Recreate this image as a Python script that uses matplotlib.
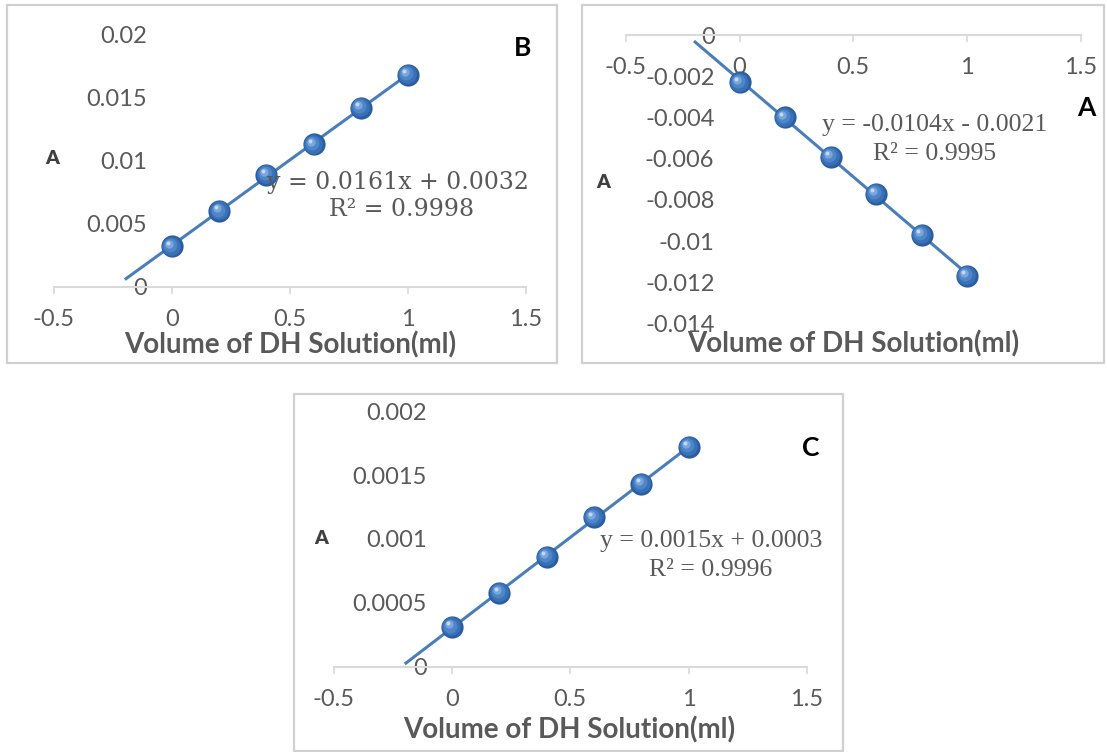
import numpy as np
import matplotlib.pyplot as plt
from matplotlib.patches import Rectangle
from matplotlib.transforms import offset_copy

plt.rcParams['font.family'] = ['Lato', 'DejaVu Sans']

W, H = 1107, 752

# volume of DH solution (ml)
volume = [0, 0.2, 0.4, 0.6, 0.8, 1.0]

# absorbance readings for each series
abs_b = [0.0032, 0.0060, 0.0089, 0.0113, 0.0142, 0.0168]
abs_a = [-0.0023, -0.0040, -0.0059, -0.0077, -0.0097, -0.0117]
abs_c = [0.00031, 0.00058, 0.00086, 0.00117, 0.00143, 0.00172]

x_ticks = [-0.5, 0, 0.5, 1, 1.5]
x_ticklabels = ['-0.5', '0', '0.5', '1', '1.5']

yticks_b = [0, 0.005, 0.01, 0.015, 0.02]
ylabels_b = ['0', '0.005', '0.01', '0.015', '0.02']
yticks_a = [0, -0.002, -0.004, -0.006, -0.008, -0.01, -0.012, -0.014]
ylabels_a = ['0', '-0.002', '-0.004', '-0.006', '-0.008', '-0.01', '-0.012', '-0.014']
yticks_c = [0, 0.0005, 0.001, 0.0015, 0.002]
ylabels_c = ['0', '0.0005', '0.001', '0.0015', '0.002']

eq_b = ['y = 0.0161x + 0.0032', 'R² = 0.9998']
eq_a = ['y = -0.0104x - 0.0021', 'R² = 0.9995']
eq_c = ['y = 0.0015x + 0.0003', 'R² = 0.9996']

GREY = '#595959'
LINE = '#4a7ebb'


def fx(x):
    return x / W


def fy(y):
    return 1 - y / H


def add_axes(fig, x0, x1, ytop, ybot):
    return fig.add_axes([fx(x0), fy(ybot), (x1 - x0) / W, (ybot - ytop) / H])


def draw_panel(ax, y, yticks, ylabels):
    ax.set_xlim(-0.5, 1.5)
    ax.set_ylim(min(yticks), max(yticks))
    ax.patch.set_alpha(0)
    for s in ['top', 'right']:
        ax.spines[s].set_visible(False)
    ax.spines['bottom'].set_position(('data', 0))
    ax.spines['bottom'].set_color('#d9d9d9')
    ax.spines['bottom'].set_linewidth(1.5)
    ax.spines['left'].set_position(('data', 0))
    ax.spines['left'].set_color('none')

    ax.set_xticks(x_ticks, x_ticklabels)
    ax.set_yticks(yticks, ylabels)
    ax.tick_params(axis='x', direction='out', length=5, width=1.2, color='#d9d9d9',
                   labelsize=17, labelcolor=GREY, pad=11)
    ax.tick_params(axis='y', length=0, labelsize=17, labelcolor=GREY, pad=18)

    # linear trendline, extended 0.2 ml backwards
    k, b = np.polyfit(volume, y, 1)
    xs = np.array([-0.2, 1.0])
    ax.plot(xs, k * xs + b, color=LINE, lw=2.2, solid_capstyle='butt', zorder=2)

    # shaded sphere markers
    fig = ax.figure
    layers = [(16, '#2b5e9f', 0), (13.5, '#3a70b6', 0.5), (10, '#4f86c9', 1.1),
              (6, '#7aa6dc', 1.9), (2.8, '#c4d9f2', 2.6)]
    for size, col, off in layers:
        tr = offset_copy(ax.transData, fig=fig, x=-off, y=off, units='points')
        ax.plot(volume, y, 'o', ms=size, color=col, mec='none', transform=tr, zorder=3)


fig = plt.figure(figsize=(W / 100, H / 100), dpi=100)

# panel frames
for x0, y0, x1, y1 in [(7, 5, 557, 363), (582, 5, 1104, 363), (294, 394, 843, 751)]:
    fig.patches.append(Rectangle((fx(x0), fy(y1)), (x1 - x0) / W, (y1 - y0) / H,
                                 transform=fig.transFigure, fill=False,
                                 edgecolor='#d0d0d0', lw=1.6))

ax_b = add_axes(fig, 54, 526, 34.7, 286.7)
draw_panel(ax_b, abs_b, yticks_b, ylabels_b)

ax_a = add_axes(fig, 625.75, 1080.75, 35, 323.4)
draw_panel(ax_a, abs_a, yticks_a, ylabels_a)

ax_c = add_axes(fig, 333.75, 806.75, 411.1, 666.7)
draw_panel(ax_c, abs_c, yticks_c, ylabels_c)

# axis titles
for cx, cy in [(290, 345), (853, 344), (569, 730)]:
    fig.text(fx(cx), fy(cy), 'Volume of DH Solution(ml)', ha='center', va='center',
             fontsize=20, fontweight='bold', color=GREY)

# y labels
for cx, cy in [(52, 158), (603, 182), (321, 539)]:
    fig.text(fx(cx), fy(cy), 'A', ha='center', va='center', fontsize=14,
             fontweight='heavy', color='#404040')

# panel letters
for letter, cx, cy in [('B', 523, 48), ('A', 1086, 108), ('C', 811, 448)]:
    fig.text(fx(cx), fy(cy), letter, ha='center', va='center', fontsize=19,
             fontweight='bold', color='black')

# trendline equations
fig.text(fx(398), fy(182), eq_b[0], ha='center', va='center', fontsize=17,
         family='DejaVu Serif', color=GREY)
fig.text(fx(402), fy(210), eq_b[1], ha='center', va='center', fontsize=17,
         family='DejaVu Serif', color=GREY)
for eq, cx, cy in [(eq_a, 935, 125), (eq_c, 711, 541)]:
    fig.text(fx(cx), fy(cy), eq[0], ha='center', va='center', fontsize=18.5,
             family='Liberation Serif', color=GREY)
    fig.text(fx(cx), fy(cy + 29), eq[1], ha='center', va='center', fontsize=18.5,
             family='Liberation Serif', color=GREY)

fig.savefig('out.png', dpi=100)
